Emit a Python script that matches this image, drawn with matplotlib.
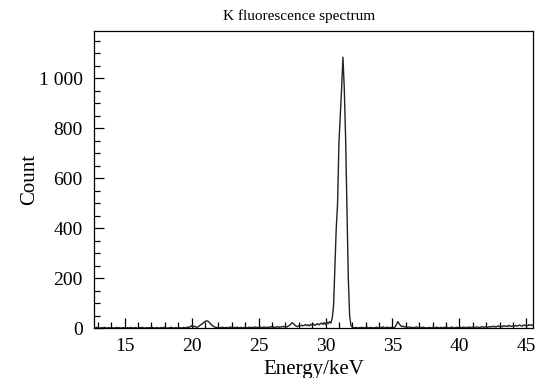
import numpy as np
import matplotlib
matplotlib.use("Agg")
from matplotlib import pyplot as plt
from matplotlib.ticker import MultipleLocator, FuncFormatter

plt.rcParams['font.family'] = ['Liberation Serif', 'DejaVu Serif']

# === Data (0.1 keV channels, 12.7 ... 45.5 keV) ===
energy_start = 12.7
energy_step = 0.1
counts = (
    [2, 1, 3]                                            # 12.7-12.9
    + [2, 1, 0, 2, 1, 3, 1, 0, 2, 1]                     # 13
    + [1, 2, 0, 1, 3, 1, 2, 0, 1, 2]                     # 14
    + [1, 0, 2, 1, 1, 3, 0, 1, 2, 1]                     # 15
    + [0, 2, 1, 3, 1, 0, 2, 1, 1, 2]                     # 16
    + [1, 3, 0, 1, 2, 1, 0, 2, 1, 3]                     # 17
    + [2, 1, 0, 1, 2, 3, 1, 0, 2, 1]                     # 18
    + [1, 2, 1, 0, 3, 1, 2, 4, 3, 6]                     # 19
    + [10, 4, 8, 5, 3, 6, 10, 14, 18, 22]                # 20
    + [26, 29, 28, 24, 18, 12, 8, 5, 3, 2]               # 21
    + [3, 1, 2, 4, 1, 2, 3, 1, 2, 5]                     # 22
    + [2, 1, 3, 2, 4, 1, 2, 3, 1, 2]                     # 23
    + [3, 2, 1, 4, 2, 3, 1, 5, 2, 3]                     # 24
    + [2, 4, 3, 1, 5, 2, 3, 4, 2, 6]                     # 25
    + [3, 5, 2, 4, 6, 3, 5, 4, 7, 5]                     # 26
    + [6, 4, 8, 10, 16, 22, 18, 12, 8, 6]                # 27
    + [10, 8, 12, 9, 11, 14, 10, 13, 9, 15]              # 28
    + [12, 16, 11, 14, 18, 13, 17, 20, 15, 22]           # 29
    + [14, 24, 18, 26, 20, 40, 90, 250, 400, 500]        # 30
    + [740, 850, 960, 1085, 960, 760, 480, 200, 50, 10]  # 31
    + [4, 2, 1, 3, 0, 2, 1, 3, 2, 1]                     # 32
    + [2, 4, 1, 2, 3, 0, 2, 1, 4, 2]                     # 33
    + [1, 3, 2, 5, 1, 2, 4, 1, 3, 2]                     # 34
    + [3, 2, 5, 14, 26, 18, 10, 6, 8, 4]                 # 35
    + [6, 3, 5, 2, 4, 1, 3, 2, 5, 2]                     # 36
    + [1, 3, 2, 4, 1, 2, 0, 3, 2, 1]                     # 37
    + [3, 1, 2, 4, 2, 1, 3, 2, 1, 4]                     # 38
    + [2, 3, 1, 2, 4, 3, 1, 2, 3, 2]                     # 39
    + [1, 3, 2, 4, 2, 3, 1, 5, 2, 3]                     # 40
    + [4, 2, 3, 5, 3, 2, 4, 6, 3, 5]                     # 41
    + [5, 3, 6, 4, 7, 5, 8, 4, 6, 9]                     # 42
    + [6, 8, 5, 10, 7, 9, 6, 11, 8, 7]                   # 43
    + [9, 7, 11, 8, 10, 12, 9, 8, 13, 10]                # 44
    + [12, 9, 14, 11, 13, 10]                            # 45
)
energy = energy_start + energy_step * np.arange(len(counts))

# === Plot ===
fig = plt.figure(figsize=(5.49, 3.78), dpi=100)
ax = fig.add_axes([0.171, 0.132, 0.8, 0.786])
ax.plot(energy, counts, color="#222222", lw=1.0)

ax.set_xlim(12.7, 45.5)
ax.set_ylim(0, 1190)
ax.xaxis.set_major_locator(MultipleLocator(5))
ax.xaxis.set_minor_locator(MultipleLocator(1))
ax.yaxis.set_major_locator(MultipleLocator(200))
ax.yaxis.set_minor_locator(MultipleLocator(50))
ax.yaxis.set_major_formatter(FuncFormatter(
    lambda v, p: "{:,}".format(int(v)).replace(",", " ")))
ax.tick_params(which="both", direction="in", labelsize=14, width=0.9)
ax.tick_params(which="major", length=7)
ax.tick_params(which="minor", length=4)
ax.tick_params(axis="x", pad=7)
ax.tick_params(axis="y", pad=8)
for s in ax.spines.values():
    s.set_linewidth(0.9)

ax.set_title("K fluorescence spectrum", fontsize=11, pad=8, x=0.467)
ax.set_xlabel("Energy/keV", fontsize=15, labelpad=4)
ax.set_ylabel("Count", fontsize=15, labelpad=0)

fig.savefig("out.png", dpi=100)
